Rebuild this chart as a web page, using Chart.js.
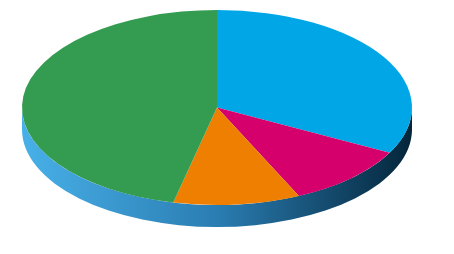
<!DOCTYPE html>
<html lang="en">
<head>
<meta charset="UTF-8">
<title>Pie</title>
<style>
    html, body { margin: 0; padding: 0; background: #fff; }
    #wrap { width: 454px; height: 254px; }
</style>
</head>
<body>
<div id="wrap">
    <canvas id="myChart" width="454" height="254"></canvas>
</div>
<script src="https://cdn.jsdelivr.net/npm/chart.js@4/dist/chart.umd.min.js"></script>
<script>
    // data (percent), clockwise from 12 o'clock
    const labels = ['Blue', 'Magenta', 'Orange', 'Green']
    const values = [32.7, 10.4, 10.5, 46.4]
    const colors = ['#00a6e6', '#d5006c', '#ee7f00', '#349c51']

    // tilted-disc layout
    const CX = 217, CY = 107.5, RX = 195, RY = 97.5, DEPTH = 22

    const tilt = {
        id: 'tilt',
        beforeDatasetsDraw(chart) {
            const ctx = chart.ctx
            const arc = chart.getDatasetMeta(0).data[0]
            const r = arc.outerRadius

            // side of the disc
            const g = ctx.createLinearGradient(CX - RX, 0, CX + RX, 0)
            g.addColorStop(0, '#48b0e8')
            g.addColorStop(0.5, '#2a7db2')
            g.addColorStop(1, '#04253a')
            ctx.save()
            ctx.beginPath()
            ctx.moveTo(CX + RX, CY)
            ctx.lineTo(CX + RX, CY + DEPTH)
            ctx.ellipse(CX, CY + DEPTH, RX, RY, 0, 0, Math.PI, false)
            ctx.lineTo(CX - RX, CY)
            ctx.ellipse(CX, CY, RX, RY, 0, Math.PI, 0, true)
            ctx.closePath()
            ctx.fillStyle = g
            ctx.fill()
            ctx.restore()

            // squash the pie into the top face
            ctx.save()
            ctx.translate(CX, CY)
            ctx.scale(RX / r, RY / r)
            ctx.translate(-arc.x, -arc.y)
        },
        afterDatasetsDraw(chart) {
            chart.ctx.restore()
        }
    }

    const ctx = document.getElementById('myChart').getContext('2d')
    const myChart = new Chart(ctx, {
        type: 'pie',
        data: {
            labels: labels,
            datasets: [{
                data: values,
                backgroundColor: colors,
                borderWidth: 0,
                hoverOffset: 0
            }]
        },
        options: {
            responsive: false,
            animation: false,
            layout: { padding: 0 },
            plugins: {
                legend: { display: false },
                title: { display: false },
                tooltip: { enabled: false }
            }
        },
        plugins: [tilt]
    })
</script>
</body>
</html>
